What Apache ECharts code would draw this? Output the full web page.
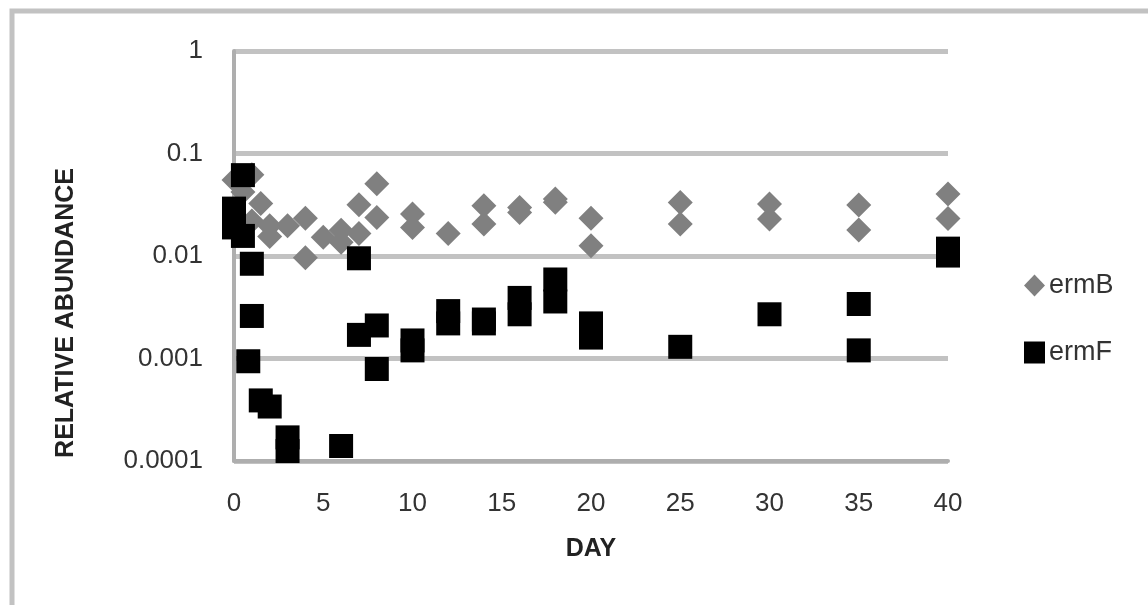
<!DOCTYPE html>
<html>
<head>
<meta charset="utf-8">
<script src="https://cdn.jsdelivr.net/npm/echarts@6/dist/echarts.min.js"></script>
<style>
  html, body { margin: 0; padding: 0; background: #fff; }
  #chart { width: 1148px; height: 605px; }
</style>
</head>
<body>
<div id="chart"></div>
<script>
// values (day, relative abundance)
var ermBDays   = [0, 0.5, 1, 1, 1.5, 2, 2, 3, 4, 4, 5, 6, 6, 7, 7, 8, 8, 10, 10, 12, 14, 14, 16, 16, 18, 18, 20, 20, 25, 25, 30, 30, 35, 35, 40, 40];
var ermBValues = [0.055, 0.042, 0.062, 0.022, 0.0325, 0.0197, 0.0155, 0.0197, 0.0234, 0.0096, 0.0152, 0.0178, 0.0136, 0.0316, 0.0166, 0.0506, 0.0238, 0.0257, 0.019, 0.0166, 0.0309, 0.0205, 0.0297, 0.0265, 0.036, 0.0335, 0.0234, 0.0126, 0.0333, 0.0205, 0.0321, 0.0229, 0.0314, 0.0179, 0.0402, 0.0232];

var ermFDays   = [0, 0, 0.5, 0.5, 1, 1, 0.8, 1.5, 2, 3, 3, 6, 7, 7, 8, 8, 10, 10, 12, 12, 14, 14, 16, 16, 18, 18, 20, 20, 25, 30, 35, 35, 40, 40];
var ermFValues = [0.029, 0.019, 0.0615, 0.0157, 0.0084, 0.0026, 0.00094, 0.00039, 0.00034, 0.00017, 0.000125, 0.00014, 0.0095, 0.0017, 0.0021, 0.00079, 0.0015, 0.0012, 0.0029, 0.0022, 0.0024, 0.0022, 0.0039, 0.0027, 0.0059, 0.0036, 0.0022, 0.0016, 0.0013, 0.0027, 0.0034, 0.0012, 0.0118, 0.0101];

var seriesNames = ['ermB', 'ermF'];

function pairs(days, values) {
    var out = [];
    for (var i = 0; i < days.length; i++) {
        out.push([days[i], values[i]]);
    }
    return out;
}

var chart = echarts.init(document.getElementById('chart'));
var labelFont = 'Liberation Sans';

var option = {
    backgroundColor: '#fff',
    animation: false,
    grid: {
        left: 234,
        right: 200,
        top: 51,
        bottom: 144
    },
    legend: {
        data: [
            { name: seriesNames[0], icon: 'diamond' },
            { name: seriesNames[1], icon: 'rect' }
        ],
        orient: 'vertical',
        left: 1019,
        top: 267,
        itemWidth: 21,
        itemHeight: 22,
        itemGap: 40,
        textStyle: { fontFamily: labelFont, fontSize: 27, color: '#333', padding: [8, 0, 0, -1] }
    },
    xAxis: {
        type: 'value',
        min: 0,
        max: 40,
        interval: 5,
        name: 'DAY',
        nameLocation: 'middle',
        nameGap: 76,
        nameTextStyle: { fontFamily: labelFont, fontSize: 25, fontWeight: 'bold', color: '#222' },
        axisLine: { show: true, lineStyle: { color: '#aeaeae', width: 4 } },
        axisTick: { show: false },
        splitLine: { show: false },
        axisLabel: { fontFamily: labelFont, fontSize: 26, color: '#333', margin: 30 }
    },
    yAxis: {
        type: 'log',
        logBase: 10,
        min: 0.0001,
        max: 1,
        axisLine: { show: true, lineStyle: { color: '#aeaeae', width: 4 } },
        axisTick: { show: false },
        splitLine: { show: true, lineStyle: { color: '#c2c2c2', width: 5 } },
        axisLabel: {
            fontFamily: labelFont, fontSize: 26, color: '#333', margin: 31,
            formatter: function (v) { return String(Number(v.toPrecision(1))); }
        }
    },
    graphic: [
        {
            type: 'rect',
            shape: { x: 12, y: 11, width: 1300, height: 800 },
            style: { fill: 'none', stroke: '#c2c2c2', lineWidth: 5 },
            silent: true
        },
        {
            type: 'text',
            x: 66,
            y: 313,
            rotation: Math.PI / 2,
            style: {
                text: 'RELATIVE ABUNDANCE',
                font: 'bold 25px "Liberation Sans"',
                fill: '#222',
                align: 'center',
                verticalAlign: 'middle'
            }
        }
    ],
    series: [
        {
            name: seriesNames[0],
            type: 'scatter',
            symbol: 'diamond',
            symbolSize: 25,
            itemStyle: { color: '#808080', opacity: 1 },
            data: pairs(ermBDays, ermBValues)
        },
        {
            name: seriesNames[1],
            type: 'scatter',
            symbol: 'rect',
            symbolSize: 24,
            itemStyle: { color: '#000', opacity: 1 },
            data: pairs(ermFDays, ermFValues)
        }
    ]
};

chart.setOption(option);
</script>
</body>
</html>
